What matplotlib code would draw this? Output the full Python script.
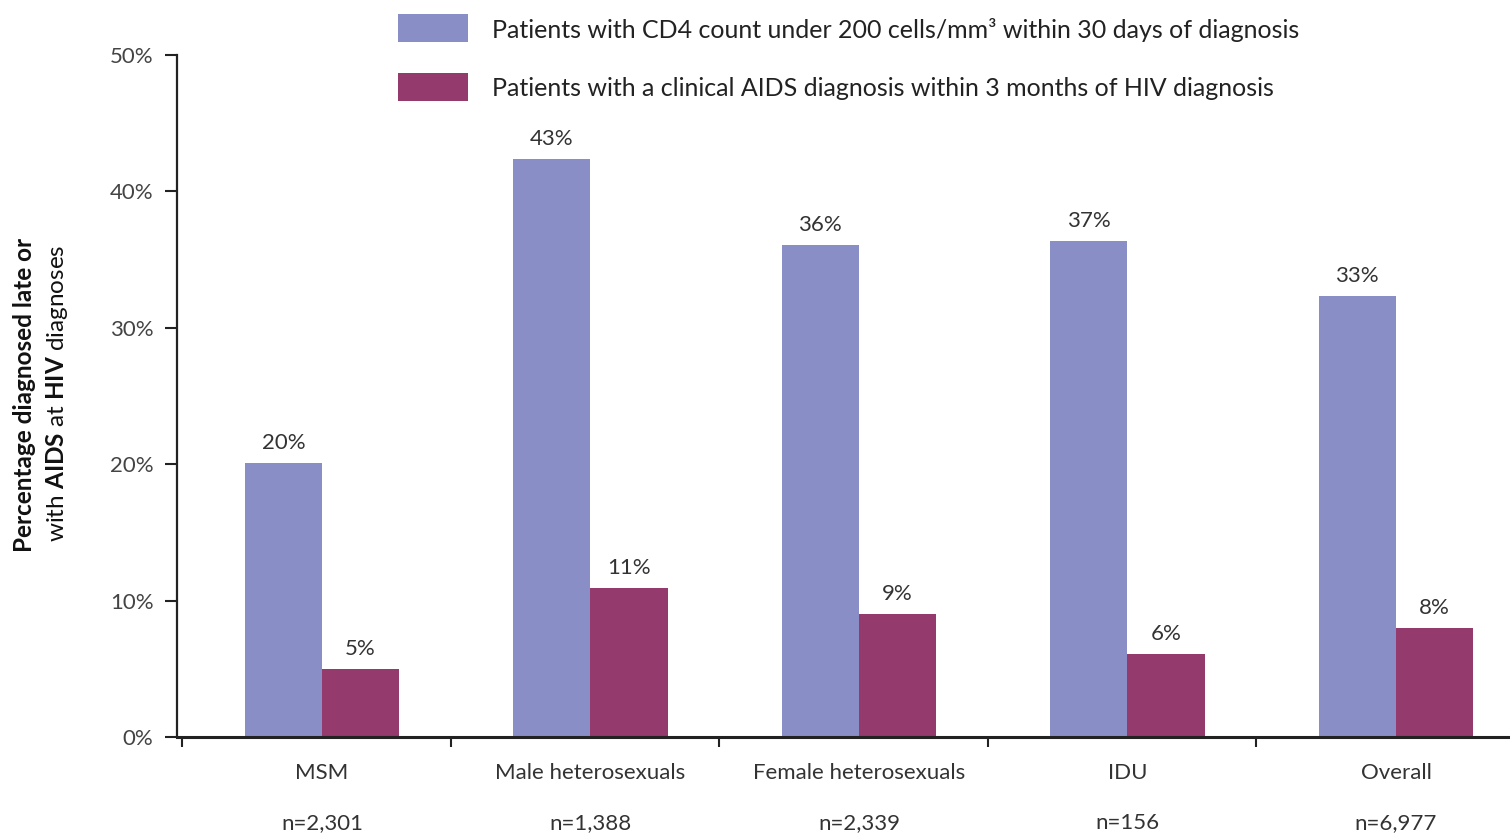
import matplotlib
matplotlib.use("Agg")
import matplotlib.pyplot as plt
from matplotlib.patches import Rectangle
from matplotlib.transforms import blended_transform_factory
import numpy as np

plt.rcParams['font.family'] = ['Lato', 'DejaVu Sans']
plt.rcParams['mathtext.fontset'] = 'custom'
plt.rcParams['mathtext.rm'] = 'Lato'
plt.rcParams['mathtext.bf'] = 'Lato:bold'

categories = ["MSM", "Male heterosexuals", "Female heterosexuals", "IDU", "Overall"]
n_labels = ["n=2,301", "n=1,388", "n=2,339", "n=156", "n=6,977"]
series_names = ["Patients with CD4 count under 200 cells/mm³ within 30 days of diagnosis",
                "Patients with a clinical AIDS diagnosis within 3 months of HIV diagnosis"]
cd4_values = [20.1, 42.4, 36.1, 36.4, 32.3]
cd4_labels = ["20%", "43%", "36%", "37%", "33%"]
aids_values = [5.0, 10.9, 9.0, 6.1, 8.0]
aids_labels = ["5%", "11%", "9%", "6%", "8%"]
yticks = [0, 10, 20, 30, 40, 50]

colors = ["#8A8EC6", "#943A6C"]
text_color = "#333333"
fs = 16

W, H = 1510, 836
fig = plt.figure(figsize=(W / 100, H / 100), dpi=100)
ax = fig.add_axes([177 / W, (H - 737) / H, (W - 177) / W, 682 / H])

x = np.arange(len(categories))
bw = 0.288
b1 = ax.bar(x - bw / 2, cd4_values, bw, color=colors[0], linewidth=0)
b2 = ax.bar(x + bw / 2, aids_values, bw, color=colors[1], linewidth=0)

for bars, labels in ((b1, cd4_labels), (b2, aids_labels)):
    for rect, lab in zip(bars, labels):
        ax.annotate(lab, (rect.get_x() + rect.get_width() / 2, rect.get_height()),
                    xytext=(0, 14.4), textcoords="offset points", ha="center", va="center",
                    fontsize=fs, color=text_color)

ax.set_ylim(0, 50)
ax.set_xlim(-0.54, -0.54 + (W - 177) / 268.5)
ax.set_yticks(yticks)
ax.set_yticklabels([f"{v}%" for v in yticks], fontsize=fs, color="#444444")
ax.set_xticks(x - 0.52)
ax.set_xticklabels([])
ax.tick_params(axis='y', direction='out', length=9, width=1.5, pad=8, color="#222222")
ax.tick_params(axis='x', direction='out', length=7, width=1.5, color="#222222")

for s in ["top", "right"]:
    ax.spines[s].set_visible(False)
ax.spines["left"].set_linewidth(1.6)
ax.spines["bottom"].set_linewidth(2.2)
ax.spines["left"].set_color("#222222")
ax.spines["bottom"].set_color("#222222")

trans = blended_transform_factory(ax.transData, ax.transAxes)
for xi, cat, nl in zip(x, categories, n_labels):
    ax.text(xi, -0.0528, cat, transform=trans, ha="center", va="center",
            fontsize=fs, color=text_color)
    ax.text(xi, -0.126, nl, transform=trans, ha="center", va="center",
            fontsize=fs, color=text_color)

# y label (two lines)
fig.text(25 / W, 1 - 395 / H, "Percentage diagnosed late or", rotation=90,
         ha="center", va="center", fontsize=17.5, fontweight="bold", color="#111111")
fig.text(57 / W, 1 - 393 / H, r"with $\mathbf{AIDS}$ at $\mathbf{HIV}$ diagnoses", rotation=90,
         ha="center", va="center", fontsize=17.5, color="#111111")

# legend
for i, (name, c) in enumerate(zip(series_names, colors)):
    yc = 28 + i * 59
    fig.add_artist(Rectangle((398 / W, 1 - (yc + 14) / H), 70 / W, 28 / H,
                             transform=fig.transFigure, facecolor=c, edgecolor="none"))
    fig.text(492 / W, 1 - (yc + 2) / H, name, ha="left", va="center", fontsize=18,
             color="#222222")

fig.savefig("out.png", dpi=100)
